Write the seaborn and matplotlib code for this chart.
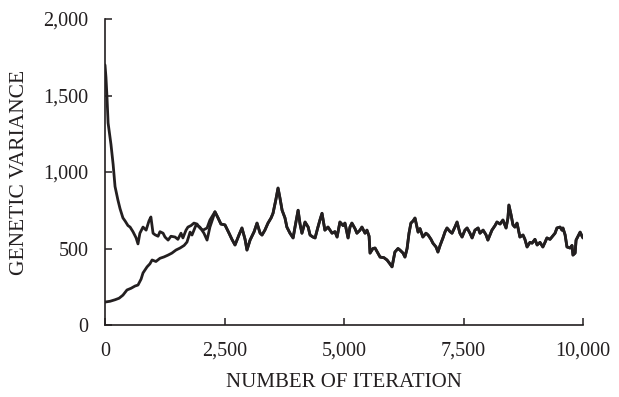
import matplotlib
matplotlib.use("Agg")
import matplotlib.pyplot as plt
import matplotlib.ticker as mticker
import numpy as np
import pandas as pd
import seaborn as sns

# Shared tail (both chains coincide after ~2,300 iterations)
tail_iter = [2300, 2365, 2425, 2510, 2595, 2655, 2720, 2805, 2865, 2930, 2970, 3035, 3120, 3180,
             3245, 3285, 3345, 3410, 3475, 3515, 3575, 3620, 3660, 3705, 3765, 3805, 3870, 3935,
             3975, 4040, 4080, 4120, 4185, 4250, 4290, 4350, 4395, 4455, 4500, 4540, 4600, 4665,
             4750, 4810, 4855, 4915, 4980, 5020, 5085, 5125, 5165, 5230, 5270, 5335, 5375, 5440,
             5480, 5525, 5545, 5605, 5650, 5710, 5755, 5835, 5900, 5960, 6005, 6065, 6130, 6170,
             6235, 6275, 6320, 6360, 6400, 6445, 6485, 6550, 6590, 6650, 6715, 6760, 6820, 6860,
             6925, 6965, 7010, 7070, 7115, 7155, 7220, 7260, 7320, 7365, 7425, 7470, 7530, 7575,
             7635, 7680, 7740, 7805, 7845, 7910, 7970, 8010, 8055, 8095, 8160, 8200, 8265, 8325,
             8390, 8430, 8450, 8495, 8535, 8575, 8620, 8680, 8745, 8785, 8830, 8890, 8935, 8995,
             9040, 9100, 9160, 9205, 9245, 9310, 9350, 9415, 9455, 9520, 9560, 9580, 9625, 9665,
             9730, 9770, 9790, 9835, 9855, 9895, 9940, 9980, 10000]
tail_var = [740, 700, 660, 654, 600, 560, 523, 590, 634, 560, 490, 555, 610, 666,
            600, 588, 620, 666, 700, 730, 820, 895, 830, 750, 700, 640, 600, 569,
            640, 750, 660, 600, 673, 640, 588, 575, 569, 640, 690, 730, 620, 640,
            600, 610, 575, 673, 650, 666, 569, 640, 666, 630, 600, 620, 640, 600,
            620, 580, 470, 500, 503, 470, 444, 440, 425, 400, 380, 477, 500, 490,
            470, 444, 500, 600, 666, 680, 699, 607, 630, 575, 600, 588, 560, 535,
            510, 477, 520, 569, 610, 634, 610, 600, 640, 673, 600, 575, 620, 634,
            600, 569, 620, 634, 600, 620, 590, 555, 590, 620, 650, 673, 660, 686,
            634, 700, 784, 720, 654, 640, 666, 575, 588, 560, 510, 540, 535, 560,
            523, 540, 510, 540, 569, 560, 575, 600, 634, 640, 620, 634, 590, 510,
            503, 520, 457, 470, 555, 580, 607, 580, 569]

# Chain started high
high_iter = [0, 20, 40, 65, 125, 170, 210, 270, 315, 375, 420, 480, 525, 585, 650, 690, 730,
             795, 860, 920, 960, 1005, 1045, 1110, 1150, 1215, 1255, 1320, 1380, 1465, 1525,
             1590, 1630, 1695, 1735, 1800, 1860, 1925, 1985, 2050, 2135, 2195, 2260]
high_var = [1700, 1620, 1500, 1320, 1180, 1050, 905, 817, 760, 700, 680, 650, 640, 610, 570, 530, 600,
            640, 620, 680, 706, 600, 590, 580, 610, 600, 575, 555, 580, 575, 560,
            600, 569, 620, 640, 650, 666, 660, 634, 620, 634, 686, 720]

# Chain started low
low_iter = [0, 105, 210, 295, 375, 460, 545, 630, 690, 755, 795, 880, 940, 985, 1065, 1150,
            1235, 1320, 1400, 1485, 1570, 1655, 1715, 1780, 1820, 1905, 1985, 2070, 2135, 2195, 2260]
low_var = [150, 155, 165, 175, 195, 229, 240, 255, 261, 300, 340, 380, 400, 425, 415, 436,
           445, 457, 470, 490, 503, 520, 542, 607, 588, 654, 640, 600, 555, 640, 700]

df = pd.concat([
    pd.DataFrame({"iter": high_iter + tail_iter, "var": high_var + tail_var, "chain": "high"}),
    pd.DataFrame({"iter": low_iter + tail_iter, "var": low_var + tail_var, "chain": "low"}),
])

sns.set_theme(style="ticks")
plt.rcParams["font.family"] = ["Liberation Serif", "DejaVu Serif"]

fig = plt.figure(figsize=(6.19, 3.97), dpi=100)
ax = fig.add_axes([105 / 619, 1 - 325 / 397, 478 / 619, 306 / 397])

sns.lineplot(data=df, x="iter", y="var", units="chain", estimator=None, sort=False,
             color="#231f20", linewidth=2.0, ax=ax, legend=False)

ax.set_xlim(0, 10000)
ax.set_ylim(0, 2000)
ax.set_xticks([0, 2500, 5000, 7500, 10000])
ax.set_yticks([0, 500, 1000, 1500, 2000])
ax.xaxis.set_major_formatter(mticker.FuncFormatter(lambda v, p: f"{int(v):,}"))
ax.yaxis.set_major_formatter(mticker.FuncFormatter(lambda v, p: f"{int(v):,}"))
ax.tick_params(direction="in", length=5, width=1.1, colors="#231f20", labelsize=14.5,
               labelcolor="#231f20")
ax.tick_params(axis="x", pad=12)
ax.tick_params(axis="y", pad=12)
sns.despine(ax=ax)
for s in ["left", "bottom"]:
    ax.spines[s].set_linewidth(1.2)
    ax.spines[s].set_color("#231f20")

ax.set_xlabel("NUMBER OF ITERATION", fontsize=15, color="#231f20", labelpad=9)
ax.set_ylabel("GENETIC VARIANCE", fontsize=15.5, color="#231f20", labelpad=10)

fig.savefig("out.png", dpi=100)
